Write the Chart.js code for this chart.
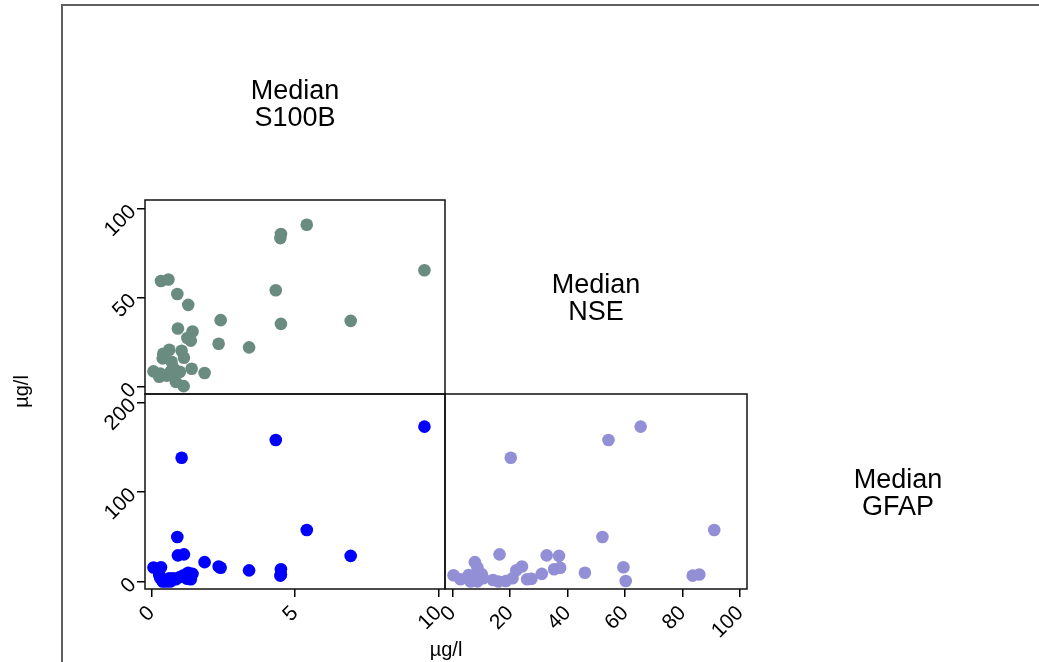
<!DOCTYPE html>
<html lang="en">
<head>
<meta charset="UTF-8">
<title>Median S100B, NSE, GFAP - scatter matrix</title>
<script src="https://cdn.jsdelivr.net/npm/chart.js"></script>
<style>
    html, body { margin: 0; padding: 0; background: #fff; }
    #wrap { position: relative; width: 1039px; height: 662px; }
</style>
</head>
<body>
<div id="wrap"><canvas id="matrix" width="1039" height="662"></canvas></div>
<script>
// one row per patient, µg/l
const s100b = [9.51, 4.33, 1.05, 5.41, 0.90, 1.13, 0.92, 6.94, 1.85, 0.07, 2.34, 3.40, 4.51, 2.41, 0.33, 1.28, 1.43, 1.25,
    1.37, 4.51, 4.49, 0.59, 1.12, 0.85, 0.27, 0.53, 0.67, 0.76, 0.70, 0.39, 0.41, 0.62, 1.40, 0.99, 0.30];
const nse = [65.4, 54.2, 20.2, 91.0, 52.1, 16.3, 32.7, 37.0, 7.7, 8.6, 24.1, 22.1, 35.3, 37.4, 59.4, 46.0, 31.0, 27.4,
    25.9, 85.8, 83.5, 60.2, 0.3, 2.7, 5.6, 6.2, 8.6, 10.6, 14.0, 15.9, 18.5, 20.8, 10.1, 8.4, 7.4];
const gfap = [172.8, 158.0, 138.2, 57.6, 49.8, 30.5, 29.4, 28.8, 21.8, 15.8, 16.9, 12.7, 13.9, 15.5, 16.2, 10.0, 8.8, 3.3,
    2.7, 8.0, 6.8, 0.8, 7.2, 2.7, 7.5, 0.2, 0.4, 3.8, 1.9, 0.3, 0.8, 3.8, 8.5, 5.2, 4.5];

const varNames = [['Median', 'S100B'], ['Median', 'NSE'], ['Median', 'GFAP']];
const unitLabel = 'µg/l';

const s100bTicks = [0, 5, 10];
const nseTicks = [0, 50, 100];
const gfapTicks = [0, 100, 200];
const nseAxisTicks = [0, 20, 40, 60, 80, 100];

const pts = (xs, ys) => xs.map((x, i) => ({x, y: ys[i]}));

const FONT = "'Liberation Sans', Arial, sans-serif";
Chart.defaults.color = '#000';
Chart.defaults.font.family = FONT;

function axis(position, stack, stackWeight, weight, tickVals, min, max) {
    return {
        type: 'linear', position, stack, stackWeight, weight, min, max,
        afterBuildTicks: s => { s.ticks = tickVals.map(v => ({value: v})); },
        afterFit: s => {
            if (position === 'left') s.width = 60; else s.height = 50;
        },
        ticks: {font: {size: 21}, minRotation: 45, maxRotation: 45, autoSkip: false, padding: 4},
        grid: {drawOnChartArea: false, tickLength: 8, color: '#000', lineWidth: 1.5},
        border: {display: false}
    };
}

const matrixDecor = {
    id: 'matrixDecor',
    beforeDraw(chart) {
        const {ctx} = chart;
        ctx.save();
        ctx.strokeStyle = '#5f5f5f';
        ctx.lineWidth = 2;
        ctx.beginPath();
        ctx.moveTo(62, chart.height);
        ctx.lineTo(62, 5);
        ctx.lineTo(chart.width, 5);
        ctx.stroke();
        ctx.restore();
    },
    beforeDatasetsDraw(chart) {
        const {ctx, scales} = chart;
        ctx.save();
        ctx.strokeStyle = '#111';
        ctx.lineWidth = 1.5;
        [['xS', 'yN'], ['xS', 'yG'], ['xN', 'yG']].forEach(([xk, yk]) => {
            const xs = scales[xk], ys = scales[yk];
            ctx.strokeRect(xs.left, ys.top, xs.right - xs.left, ys.bottom - ys.top);
        });
        ctx.restore();
    },
    afterDraw(chart) {
        const {ctx, scales, chartArea} = chart;
        const xS = scales.xS, xN = scales.xN, yN = scales.yN, yG = scales.yG;
        const colW = xN.right - xN.left, rowH = yN.bottom - yN.top;
        const cells = [
            [(xS.left + xS.right) / 2, yN.top - rowH / 2],
            [(xN.left + xN.right) / 2, (yN.top + yN.bottom) / 2],
            [xN.right + colW / 2, (yG.top + yG.bottom) / 2]
        ];
        ctx.save();
        ctx.fillStyle = '#000';
        ctx.textAlign = 'center';
        ctx.textBaseline = 'middle';
        ctx.font = '27px ' + FONT;
        cells.forEach(([cx, cy], i) => {
            ctx.fillText(varNames[i][0], cx, cy - 11);
            ctx.fillText(varNames[i][1], cx, cy + 16);
        });
        // shared axis titles
        ctx.font = '20px ' + FONT;
        ctx.fillText(unitLabel, (chartArea.left + chartArea.right) / 2, 650);
        ctx.translate(22, (chartArea.top + chartArea.bottom) / 2 - 3);
        ctx.rotate(-Math.PI / 2);
        ctx.fillText(unitLabel, 0, 0);
        ctx.restore();
    }
};

new Chart(document.getElementById('matrix'), {
    type: 'scatter',
    data: {
        datasets: [
            {data: pts(s100b, nse), xAxisID: 'xS', yAxisID: 'yN', backgroundColor: '#6a8c80'},
            {data: pts(s100b, gfap), xAxisID: 'xS', yAxisID: 'yG', backgroundColor: '#0000ff'},
            {data: pts(nse, gfap), xAxisID: 'xN', yAxisID: 'yG', backgroundColor: '#938fd6'}
        ]
    },
    options: {
        responsive: false,
        animation: false,
        devicePixelRatio: 1,
        layout: {padding: {left: 85, top: 200, right: 292, bottom: 23}},
        elements: {point: {radius: 6.3, borderWidth: 0, hoverRadius: 6.3}},
        plugins: {legend: {display: false}, tooltip: {enabled: false}},
        scales: {
            xS: axis('bottom', 'cols', 300, 1, s100bTicks, -0.226, 10.226),
            xN: axis('bottom', 'cols', 302, 2, nseAxisTicks, -2.68, 102.4),
            yN: axis('left', 'rows', 194, 2, nseTicks, -4.1, 104.9),
            yG: axis('left', 'rows', 195, 1, gfapTicks, -8.1, 209.2)
        }
    },
    plugins: [matrixDecor]
});
</script>
</body>
</html>
